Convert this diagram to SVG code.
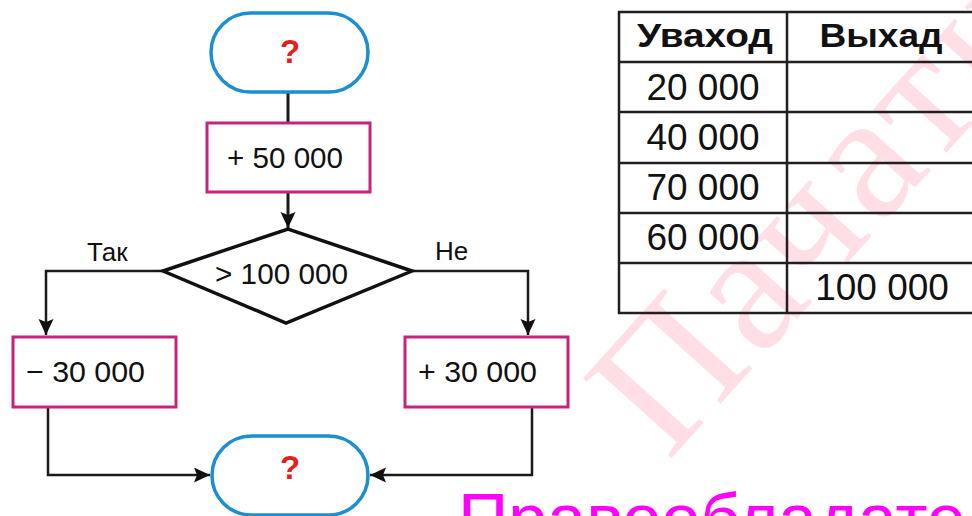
<svg xmlns="http://www.w3.org/2000/svg" width="972" height="516" viewBox="0 0 972 516">
<style>
.term{fill:none;stroke:#1b8fd2;stroke-width:3.5}
.proc{fill:none;stroke:#c8237a;stroke-width:3}
.dec{fill:none;stroke:#111;stroke-width:3.5;stroke-linejoin:miter}
.conn{fill:none;stroke:#1a1a1a;stroke-width:2.5}
.q{font-family:"Liberation Sans",Arial,sans-serif;font-weight:bold;font-size:33px;fill:#e3201b;text-anchor:middle}
.t{font-family:"Liberation Sans",Arial,sans-serif;font-size:30px;fill:#111}
.lbl{font-family:"Liberation Sans",Arial,sans-serif;font-size:26px;fill:#111}
.th{font-family:"Liberation Sans",Arial,sans-serif;font-weight:bold;font-size:34px;fill:#111;text-anchor:middle}
.td{font-family:"Liberation Sans",Arial,sans-serif;font-size:37px;fill:#111;text-anchor:middle}
.grid{fill:none;stroke:#231f20;stroke-width:2.5}
</style>
<defs>
<marker id="arr" markerUnits="userSpaceOnUse" markerWidth="18" markerHeight="16" refX="16" refY="7.5" orient="auto">
<path d="M0,0 L16,7.5 L0,15 L3,7.5 z" fill="#111"/>
</marker>
</defs>
<rect width="972" height="516" fill="#fff"/>
<g id="watermarks">
<text x="0" y="0" transform="translate(668,462) rotate(-48)" font-family="'Liberation Serif',serif" font-size="182" letter-spacing="6" fill="#ffdfe5">Пачатк</text>
<text x="458" y="543" font-family="'Liberation Sans',Arial,sans-serif" font-size="70" fill="#ff00ff">Правообладатель</text>
</g>
<g id="connectors">
<path class="conn" d="M288,92 V123" style="stroke-width:3"/>
<path class="conn" d="M288,192 V228" style="stroke-width:3" marker-end="url(#arr)"/>
<path class="conn" d="M163,271 H46 V335" marker-end="url(#arr)"/>
<path class="conn" d="M412,271 H528 V335" marker-end="url(#arr)"/>
<path class="conn" d="M48,407 V475 H210" marker-end="url(#arr)"/>
<path class="conn" d="M532,407 V475 H370" marker-end="url(#arr)"/>
</g>
<g id="start">
<rect class="term" x="211" y="13" width="157" height="79" rx="39.5"/>
<text class="q" x="290" y="63">?</text>
</g>
<g id="add50">
<rect class="proc" x="207" y="123" width="163" height="69"/>
<text class="t" x="227" y="168" textLength="116" lengthAdjust="spacingAndGlyphs">+ 50 000</text>
</g>
<g id="decision">
<polygon class="dec" points="163,271 288,229 412,271 286,323"/>
<text class="t" x="215" y="284" textLength="133" lengthAdjust="spacingAndGlyphs">&gt; 100 000</text>
</g>
<g id="label-yes"><text class="lbl" x="87" y="261">Так</text></g>
<g id="label-no"><text class="lbl" x="435" y="260">Не</text></g>
<g id="sub30">
<rect class="proc" x="13" y="337" width="163" height="70"/>
<text class="t" x="26" y="382" textLength="119" lengthAdjust="spacingAndGlyphs">− 30 000</text>
</g>
<g id="add30">
<rect class="proc" x="405" y="337" width="163" height="70"/>
<text class="t" x="418" y="382" textLength="119" lengthAdjust="spacingAndGlyphs">+ 30 000</text>
</g>
<g id="end">
<rect class="term" x="212" y="436" width="156" height="79" rx="39.5"/>
<text class="q" x="290" y="479">?</text>
</g>
<g id="table">
<rect class="grid" x="619" y="12" width="357" height="301"/>
<path class="grid" d="M619,62 H976 M619,112 H976 M619,163 H976 M619,213 H976 M619,263 H976 M787,12 V313"/>
<text class="th" x="705" y="47" textLength="136" lengthAdjust="spacingAndGlyphs">Уваход</text>
<text class="th" x="881" y="47" textLength="123" lengthAdjust="spacingAndGlyphs">Выхад</text>
<text class="td" x="703" y="100">20 000</text>
<text class="td" x="703" y="150">40 000</text>
<text class="td" x="703" y="200">70 000</text>
<text class="td" x="703" y="250">60 000</text>
<text class="td" x="882" y="300">100 000</text>
</g>
</svg>
